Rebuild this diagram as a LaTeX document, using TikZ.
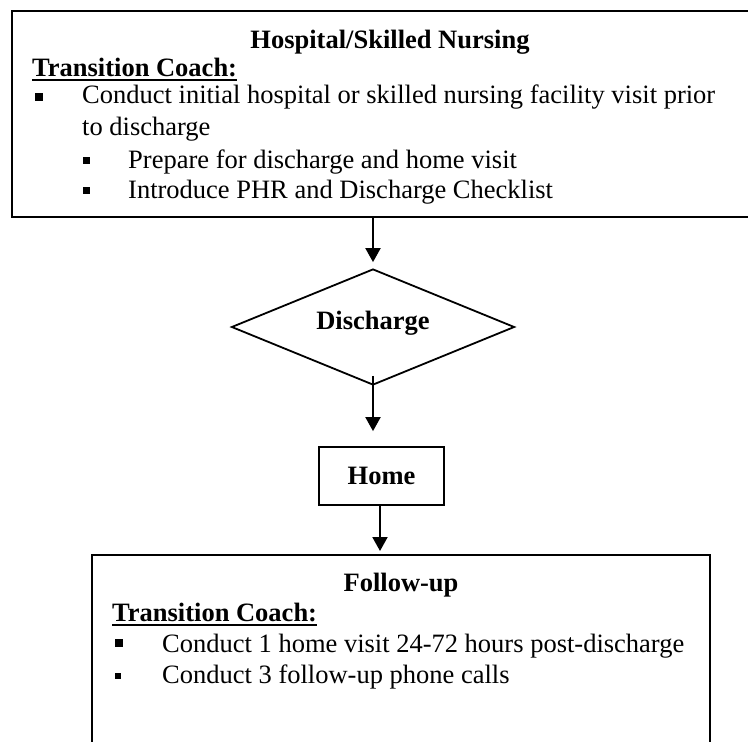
\documentclass[tikz,border=0pt]{standalone}
\usepackage{fontspec}
\setmainfont{Liberation Serif}
\usetikzlibrary{shapes.geometric,arrows.meta}
\tikzset{
  txt/.style={inner sep=0pt, font=\fontsize{26.5pt}{32pt}\selectfont},
  boldtxt/.style={txt, font=\fontsize{26.5pt}{32pt}\selectfont\bfseries},
  bigbox/.style={draw, line width=2pt, rectangle, inner sep=0pt},
  decide/.style={draw, line width=1.8pt, diamond, inner sep=0pt, minimum width=283pt, minimum height=116pt, aspect=2.44},
  smallbox/.style={draw, line width=1.8pt, rectangle, inner sep=0pt, minimum width=125pt, minimum height=58pt},
  arr/.style={line width=2pt, -{Triangle[length=14pt,width=15pt]}},
  ul/.style={line width=2.4pt},
  bullet/.style={fill=black, draw=none}
}
\begin{document}
\begin{tikzpicture}[x=1pt,y=-1pt]
\useasboundingbox (0,0) rectangle (748,742);
\clip (0,0) rectangle (748,742);
\fill[white] (0,0) rectangle (748,742);

% top box
\node[bigbox, minimum width=756pt, minimum height=206pt] (hosp) at (390,114) {};
\node[boldtxt, anchor=base] (htitle) at (390,48) {Hospital/Skilled Nursing};
\node[boldtxt, anchor=base west] (tc1) at (32,76) {Transition Coach:};
\draw[ul] ([yshift=-4pt]tc1.base west) -- ([yshift=-4pt]tc1.base east);
\fill[bullet] (35,93) rectangle (43,100.5);
\node[txt, anchor=base west] (c1) at (82,103) {Conduct initial hospital or skilled nursing facility visit prior};
\node[txt, anchor=base west] (c2) at (82,135) {to discharge};
\fill[bullet] (83,157) rectangle (90,164);
\node[txt, anchor=base west] (p1) at (128,168) {Prepare for discharge and home visit};
\fill[bullet] (83,187) rectangle (90,194);
\node[txt, anchor=base west] (p2) at (128,198) {Introduce PHR and Discharge Checklist};

% diamond
\node[decide, boldtxt, text height=14pt, text depth=10pt] (disc) at (373,327) {Discharge};

% home
\node[smallbox, boldtxt] (home) at (381.5,476) {Home};

% follow-up box
\node[bigbox, minimum width=618pt, minimum height=240pt] (fol) at (401,675) {};
\node[boldtxt, anchor=base] (ftitle) at (401,591) {Follow-up};
\node[boldtxt, anchor=base west] (tc2) at (112,621) {Transition Coach:};
\draw[ul] ([yshift=-4pt]tc2.base west) -- ([yshift=-4pt]tc2.base east);
\fill[bullet] (115,639) rectangle (122.5,646.5);
\node[txt, anchor=base west] (f1) at (162,652) {Conduct 1 home visit 24-72 hours post-discharge};
\fill[bullet] (115,673) rectangle (121,679);
\node[txt, anchor=base west] (f2) at (162,683) {Conduct 3 follow-up phone calls};

% connectors
\draw[arr, shorten >=6pt] (disc.north |- hosp.south) -- (disc.north);
\draw[arr, shorten >=15pt] ([yshift=10pt]disc.south) -- (disc.south |- home.north);
\draw[arr, shorten >=3pt] ([xshift=-1.5pt]home.south) -- ([xshift=-1.5pt]home.south |- fol.north);
\end{tikzpicture}
\end{document}
